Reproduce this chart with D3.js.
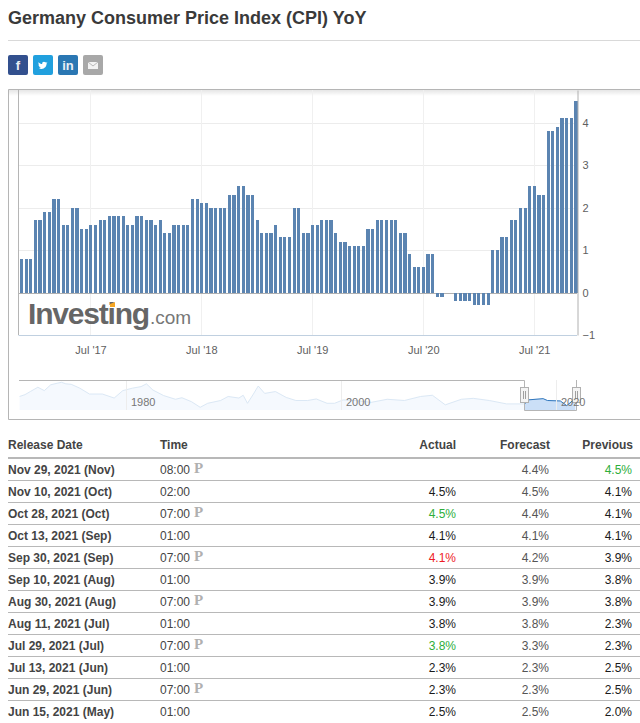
<!DOCTYPE html>
<html>
<head>
<meta charset="utf-8">
<script src="https://cdnjs.cloudflare.com/ajax/libs/d3/7.8.5/d3.min.js"></script>
<style>
  html, body { margin: 0; padding: 0; background: #fff; overflow: hidden; }
  svg { display: block; }
  text { font-family: "Liberation Sans", Arial, sans-serif; }
</style>
</head>
<body>
<div id="chart"></div>
<script>
// CPI YoY per release, oldest first
const cpiValues = [
  0.8,0.8,0.8,1.7,1.7,1.9,1.9,2.2,2.2,1.6,1.6,2.0,2.0,1.5,1.5,1.6,1.6,1.7,1.7,1.8,
  1.8,1.8,1.8,1.6,1.6,1.8,1.8,1.7,1.7,1.6,1.7,1.4,1.4,1.6,1.6,1.6,1.6,2.2,2.2,2.1,
  2.1,2.0,2.0,2.0,2.0,2.3,2.3,2.5,2.5,2.3,2.3,1.7,1.4,1.4,1.4,1.6,1.3,1.3,1.3,2.0,
  2.0,1.4,1.4,1.6,1.6,
  1.7,1.7,1.7,1.4,1.2,1.2,1.1,1.1,1.1,1.1,1.5,1.5,1.7,1.7,1.7,1.7,1.7,1.4,1.4,0.9,
  0.6,0.6,0.6,0.9,0.9,-0.1,-0.1,0,0,-0.2,-0.2,-0.2,-0.2,-0.3,-0.3,-0.3,-0.3,1.0,1.0,
  1.3,1.3,1.7,1.7,2.0,2.0,2.5,2.5,2.3,2.3,3.8,3.8,3.9,4.1,4.1,4.1,4.5
];
const yTicks = [-1, 0, 1, 2, 3, 4];
const xTickDates = ["2017-07-01", "2018-07-01", "2019-07-01", "2020-07-01", "2021-07-01"];

// navigator series: whole history
const navYears = [1970.1,1970.6,1971.1,1971.8,1972.4,1973,1973.6,1974,1974.4,1974.9,1975.7,1976.6,1977.8,1978.9,1979.7,1980.6,1981.4,1981.9,1982.5,1983.5,1984.6,1985.2,1986.1,1986.9,1987.6,1988.8,1989.5,1990.5,1990.9,1991.3,1991.8,1992.3,1992.9,1993.9,1994.9,1995.8,1996.9,1997.7,1998.7,1999.4,2000.2,2001.3,2002.8,2004.3,2005.9,2007.4,2008.5,2009.7,2011.2,2012.3,2013.8,2015.4,2017.1,2017.4,2018.8,2019.2,2020.4,2021,2021.8];
const navValues = [3.2,3.8,4.8,6.2,5.1,7,7.5,7.8,7.3,7.15,5.9,4,4,2.7,5.1,5.9,6.4,7.3,5.3,3.5,2.3,2.8,1.5,-0.3,1,1.9,3.2,2.7,3.6,1,3.7,6.6,4.2,4.8,2.9,1.9,1.9,2.4,1,1,2.1,1.9,1.3,2.3,1.9,3.2,3.6,0.5,2.3,2.6,1.9,0.8,0.8,2.1,2.5,1.9,1.75,0.24,2.6];
const navTicks = [1980, 2000, 2020];
const navSelection = [2017.05, 2021.9];

// table
const tableHeaders = ["Release Date", "Time", "Actual", "Forecast", "Previous"];
const releaseDates = ["Nov 29, 2021 (Nov)","Nov 10, 2021 (Oct)","Oct 28, 2021 (Oct)","Oct 13, 2021 (Sep)","Sep 30, 2021 (Sep)","Sep 10, 2021 (Aug)","Aug 30, 2021 (Aug)","Aug 11, 2021 (Jul)","Jul 29, 2021 (Jul)","Jul 13, 2021 (Jun)","Jun 29, 2021 (Jun)","Jun 15, 2021 (May)"];
const releaseTimes = ["08:00","02:00","07:00","01:00","07:00","01:00","07:00","01:00","07:00","01:00","07:00","01:00"];
const preliminary = [true,false,true,false,true,false,true,false,true,false,true,false];
const actuals = ["","4.5%","4.5%","4.1%","4.1%","3.9%","3.9%","3.8%","3.8%","2.3%","2.3%","2.5%"];
const actualTone = ["","","up","","down","","","","up","","",""];
const forecasts = ["4.4%","4.5%","4.4%","4.1%","4.2%","3.9%","3.9%","3.8%","3.3%","2.3%","2.3%","2.5%"];
const previous = ["4.5%","4.1%","4.1%","4.1%","3.9%","3.8%","3.8%","2.3%","2.3%","2.5%","2.5%","2.0%"];

const tones = {up: "#2eae3a", down: "#ee1c25", "": "#1a1a1a"};

const svg = d3.select("#chart").append("svg")
    .attr("width", 640)
    .attr("height", 723);

// Heading
svg.append("text")
    .attr("x", 8).attr("y", 24)
    .style("font-size", "18px").style("font-weight", "bold")
    .attr("fill", "#3a3a3a")
    .text("Germany Consumer Price Index (CPI) YoY");

svg.append("line")
    .attr("x1", 8).attr("x2", 640).attr("y1", 40.5).attr("y2", 40.5)
    .attr("stroke", "#d9d9d9");

// Share buttons
const shareButtons = [
  {color: "#32508e", x: 8},
  {color: "#21a0de", x: 33},
  {color: "#2a77b3", x: 58},
  {color: "#a8a8a8", x: 83}
];
svg.selectAll(".share")
    .data(shareButtons)
    .enter()
    .append("rect")
    .attr("class", "share")
    .attr("x", d => d.x).attr("y", 55)
    .attr("width", 20).attr("height", 20)
    .attr("rx", 2)
    .attr("fill", d => d.color);

svg.append("text").attr("x", 18).attr("y", 69.5).attr("text-anchor", "middle")
    .attr("fill", "#e8ecf4").style("font-size", "13px").style("font-weight", "bold").text("f");
svg.append("path")
    .attr("transform", "translate(38,61) scale(0.72)")
    .attr("fill", "#fff")
    .attr("d", "M12 2.2c-.5.2-.9.3-1.4.4.5-.3.9-.8 1.1-1.3-.5.3-1 .5-1.6.6C9.6 1.4 9 1.1 8.300 1.100c-1.400 0-2.500 1.100-2.500 2.500 0 .2 0 .4.1.6C3.800 4.100 2 3.100.8 1.600c-.2.400-.3.800-.3 1.300 0 .9.400 1.600 1.100 2.100-.4 0-.8-.1-1.100-.3 0 1.200.9 2.200 2 2.500-.4.100-.8.100-1.100 0 .3 1 1.200 1.700 2.300 1.700C3.800 9.600 2.400 10 1 9.900c1.100.7 2.400 1.100 3.800 1.100 4.600 0 7.100-3.800 7.100-7.100v-.3c.5-.4.9-.8 1.200-1.400z");
svg.append("text").attr("x", 68).attr("y", 70).attr("text-anchor", "middle")
    .attr("fill", "#e8eef5").style("font-size", "13px").style("font-weight", "bold").text("in");
svg.append("rect").attr("x", 88).attr("y", 62).attr("width", 10).attr("height", 7).attr("fill", "#f2f2f2");
svg.append("path").attr("d", "M88 62L93 66L98 62").attr("fill", "none").attr("stroke", "#a8a8a8").attr("stroke-width", 0.8);

// Chart frame
const plot = {left: 19, right: 577, top: 90, bottom: 335};

const shadow = svg.append("defs").append("linearGradient")
    .attr("id", "topShadow").attr("x1", 0).attr("x2", 0).attr("y1", 0).attr("y2", 1);
shadow.append("stop").attr("offset", 0).attr("stop-color", "#000").attr("stop-opacity", 0.1);
shadow.append("stop").attr("offset", 1).attr("stop-color", "#000").attr("stop-opacity", 0);

svg.append("path")
    .attr("d", "M640 89.500H8.500V419.500H640")
    .attr("fill", "none")
    .attr("stroke", "#b5b5b5");
svg.append("rect")
    .attr("x", 9).attr("y", 90).attr("width", 631).attr("height", 6)
    .attr("fill", "url(#topShadow)");

// Scales
const xBand = d3.scaleBand()
    .domain(d3.range(cpiValues.length))
    .range([plot.left + 1, plot.right + 0.5])
    .paddingInner(0.31)
    .paddingOuter(0);

const xTime = d3.scaleTime()
    .domain([new Date(2016, 10, 6), new Date(2021, 10, 19)])
    .range([plot.left - 0.5, plot.right]);

const yScale = d3.scaleLinear()
    .domain([-1, 4.77])
    .range([plot.bottom, plot.top]);

// Grid lines
svg.selectAll(".grid-h")
    .data(yTicks.filter(d => d > 0))
    .enter()
    .append("line")
    .attr("class", "grid-h")
    .attr("x1", plot.left).attr("x2", plot.right)
    .attr("y1", d => Math.round(yScale(d)) + 0.5)
    .attr("y2", d => Math.round(yScale(d)) + 0.5)
    .attr("stroke", "#ececec");

const xTicks = xTickDates.map(d => d3.isoParse(d));
svg.selectAll(".grid-v")
    .data(xTicks)
    .enter()
    .append("line")
    .attr("class", "grid-v")
    .attr("x1", d => Math.round(xTime(d)) + 0.5)
    .attr("x2", d => Math.round(xTime(d)) + 0.5)
    .attr("y1", plot.top).attr("y2", plot.bottom)
    .attr("stroke", "#f0f0f0");

// Zero line, then bars on top
svg.append("line")
    .attr("x1", plot.left).attr("x2", plot.right)
    .attr("y1", Math.round(yScale(0)) + 0.5).attr("y2", Math.round(yScale(0)) + 0.5)
    .attr("stroke", "#b0b0b0");

svg.selectAll(".bar")
    .data(cpiValues)
    .enter()
    .append("rect")
    .attr("class", "bar")
    .attr("x", (d, i) => xBand(i))
    .attr("width", xBand.bandwidth())
    .attr("y", d => yScale(Math.max(d, 0)))
    .attr("height", d => Math.abs(yScale(d) - yScale(0)))
    .attr("fill", "#5b84b1")
    .attr("shape-rendering", "crispEdges");

// Logo
const logo = svg.append("text").attr("x", 28).attr("y", 324);
logo.append("tspan")
    .style("font-size", "30px").style("font-weight", "bold").style("letter-spacing", "-1.2px")
    .attr("fill", "#666").text("Investing");
logo.append("tspan")
    .attr("dx", 1)
    .style("font-size", "19px").attr("fill", "#777").text(".com");
svg.append("path").attr("d", "M110 304L115 302L115 307L110 307Z").attr("fill", "#f5a623");

// Plot edges
svg.append("line")
    .attr("x1", plot.left - 0.5).attr("x2", plot.left - 0.5)
    .attr("y1", plot.top).attr("y2", plot.bottom)
    .attr("stroke", "#b5b5b5");
svg.append("line")
    .attr("x1", plot.left - 0.5).attr("x2", plot.right)
    .attr("y1", plot.bottom + 0.5).attr("y2", plot.bottom + 0.5)
    .attr("stroke", "#c0d0e0");

// Axes
const yAxis = svg.append("g")
    .attr("transform", `translate(${plot.right + 0.5},0)`)
    .call(d3.axisRight(yScale).tickValues(yTicks).tickSize(0).tickPadding(5).tickFormat(d3.format("d")));
yAxis.select(".domain").attr("stroke", "#b0b0b0");
yAxis.selectAll("text").style("font-size", "11px").style("font-family", "'Liberation Sans', Arial, sans-serif").attr("fill", "#606060");

const xAxis = svg.append("g")
    .attr("transform", `translate(0,${plot.bottom})`)
    .call(d3.axisBottom(xTime).tickValues(xTicks).tickSize(0).tickPadding(11).tickFormat(d3.timeFormat("%b '%y")));
xAxis.select(".domain").remove();
xAxis.selectAll("text").style("font-size", "11px").style("font-family", "'Liberation Sans', Arial, sans-serif").attr("fill", "#606060");

// Navigator
const nav = {top: 382, bottom: 410, outline: 380};
const navX = d3.scaleLinear().domain([2000, 2020]).range([341, 556]);
const navY = d3.scaleLinear().domain([-0.3, 7.8]).range([407.3, 382.3]);
const navPoints = navYears.map((year, i) => ({year: year, value: navValues[i]}));
const inSelection = navPoints.filter(d => d.year >= navSelection[0]);

const navArea = d3.area().x(d => navX(d.year)).y0(nav.bottom).y1(d => navY(d.value));
const navLine = d3.line().x(d => navX(d.year)).y(d => navY(d.value));

svg.append("path").datum(navPoints).attr("d", navArea).attr("fill", "#f5f9fe");
svg.append("path").datum(navPoints).attr("d", navLine).attr("fill", "none").attr("stroke", "#dbe8f5");
svg.append("path").datum(inSelection).attr("d", navArea).attr("fill", "#cbdff7");
svg.append("path").datum(inSelection).attr("d", navLine).attr("fill", "none").attr("stroke", "#2f76bd");

svg.selectAll(".nav-grid")
    .data(navTicks)
    .enter()
    .append("line")
    .attr("class", "nav-grid")
    .attr("x1", d => Math.round(navX(d)) + 0.5)
    .attr("x2", d => Math.round(navX(d)) + 0.5)
    .attr("y1", nav.outline).attr("y2", nav.bottom)
    .attr("stroke", "#ededed");

// Navigator selection outline and handles
const selLeft = Math.round(navX(navSelection[0])) + 0.5;
const selRight = Math.round(navX(navSelection[1])) + 0.5;
svg.append("path")
    .attr("d", `M${plot.left} ${nav.outline + 0.5}H${selLeft}V${nav.bottom + 0.5}H${selRight}V${nav.outline}`)
    .attr("fill", "none")
    .attr("stroke", "#b5b5b5");

const handles = svg.selectAll(".handle")
    .data([selLeft, selRight])
    .enter()
    .append("g")
    .attr("class", "handle")
    .attr("transform", d => `translate(${d},0)`);
handles.append("rect")
    .attr("x", -4).attr("y", 387.500).attr("width", 8).attr("height", 15)
    .attr("fill", "#f4f4f4").attr("stroke", "#b0b0b0");
handles.append("path")
    .attr("d", "M-1 391V399M1 391V399")
    .attr("stroke", "#a0a0a0").attr("fill", "none");

// labels sit above the handles, the 2020 one runs across the right handle
svg.selectAll(".nav-label")
    .data(navTicks)
    .enter()
    .append("text")
    .attr("class", "nav-label")
    .attr("x", d => navX(d) + 5)
    .attr("y", 406)
    .style("font-size", "11px")
    .attr("fill", "#777")
    .text(d => d);

// Table
const columnX = {date: 8, time: 160, actual: 456, forecast: 549, previous: 632};
const rowHeight = 22;
const firstRowY = 469;
const rows = releaseDates.map((date, i) => ({
  date: date, time: releaseTimes[i], prelim: preliminary[i],
  actual: actuals[i], tone: actualTone[i], forecast: forecasts[i], previous: previous[i]
}));

const headerX = [columnX.date, columnX.time, columnX.actual, columnX.forecast + 1, columnX.previous + 1];
svg.selectAll(".table-header")
    .data(tableHeaders)
    .enter()
    .append("text")
    .attr("class", "table-header")
    .attr("x", (d, i) => headerX[i])
    .attr("y", 448.500)
    .attr("text-anchor", (d, i) => i < 2 ? "start" : "end")
    .style("font-size", "12px").style("font-weight", "bold")
    .attr("fill", "#444")
    .text(d => d);

svg.append("line")
    .attr("x1", 8).attr("x2", 640).attr("y1", 458).attr("y2", 458)
    .attr("stroke", "#b8b8b8").attr("stroke-width", 2);

const row = svg.selectAll(".row")
    .data(rows)
    .enter()
    .append("g")
    .attr("class", "row")
    .attr("transform", (d, i) => `translate(0,${firstRowY + i * rowHeight})`);

row.append("text").attr("x", columnX.date).attr("y", 4.500)
    .style("font-size", "12px").style("font-weight", "bold").attr("fill", "#444").text(d => d.date);
row.append("text").attr("x", columnX.time).attr("y", 4.500)
    .style("font-size", "12px").attr("fill", "#444").text(d => d.time);
row.filter(d => d.prelim).append("text").attr("x", 194).attr("y", 3.700)
    .style("font-size", "15px").style("font-weight", "bold").style("font-family", "'Liberation Serif', serif")
    .attr("fill", "#b0b0b0").text("P");
row.append("text").attr("x", columnX.actual).attr("y", 4.500).attr("text-anchor", "end")
    .style("font-size", "12px").attr("fill", d => tones[d.tone]).text(d => d.actual);
row.append("text").attr("x", columnX.forecast).attr("y", 4.500).attr("text-anchor", "end")
    .style("font-size", "12px").attr("fill", "#555").text(d => d.forecast);
row.append("text").attr("x", columnX.previous).attr("y", 4.500).attr("text-anchor", "end")
    .style("font-size", "12px").attr("fill", (d, i) => i === 0 ? tones.up : tones[""]).text(d => d.previous);
row.filter((d, i) => i < rows.length - 1).append("line")
    .attr("x1", 8).attr("x2", 640).attr("y1", 11.500).attr("y2", 11.500)
    .attr("stroke", "#b8b8b8");
</script>
</body>
</html>
